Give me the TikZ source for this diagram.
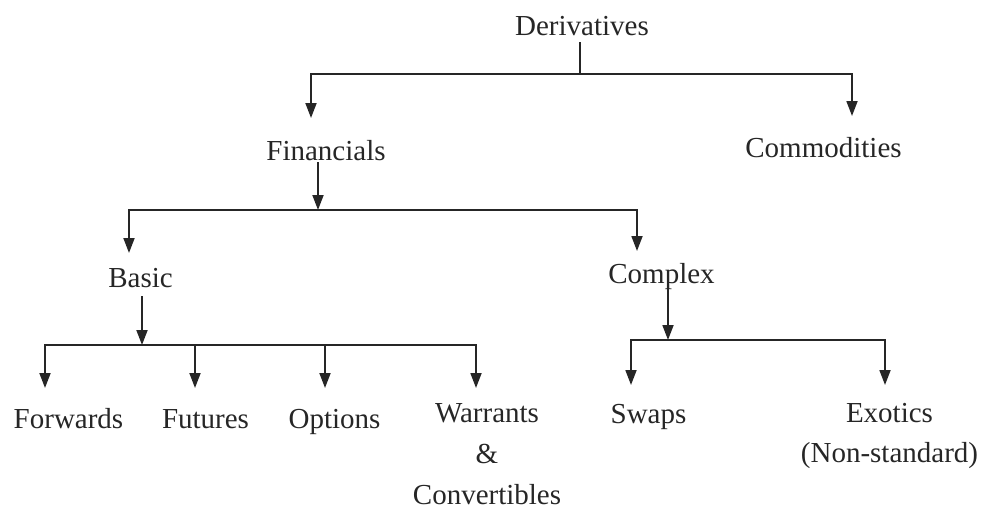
\documentclass[tikz,border=0pt]{standalone}
\usepackage{fontspec}
\setmainfont{Liberation Serif}
\usetikzlibrary{arrows.meta}
\begin{document}
\begin{tikzpicture}[x=1pt,y=-1pt,
  lbl/.style={inner sep=0pt, font=\fontsize{29}{41}\selectfont, text=black!85},
  ln/.style={line width=1.8pt, draw=black!85},
  arr/.style={ln, -{Triangle[length=15pt,width=11pt]}}]
\useasboundingbox (0,0) rectangle (984,512);
% nodes
\node[lbl,anchor=base] (der) at (582,35) {Derivatives};
\node[lbl,anchor=base] (fin) at (326,160) {Financials};
\node[lbl,anchor=base] (com) at (823.5,157) {Commodities};
\node[lbl,anchor=base] (bas) at (140.5,287) {Basic};
\node[lbl,anchor=base] (cpx) at (661.5,283) {Complex};
\node[lbl,anchor=base] (fwd) at (68.5,428) {Forwards};
\node[lbl,anchor=base] (fut) at (205.5,428) {Futures};
\node[lbl,anchor=base] (opt) at (334.5,428) {Options};
\node[lbl,align=center] (war) at (487,454) {Warrants\\\&\\Convertibles};
\node[lbl,anchor=base] (swp) at (648.5,423) {Swaps};
\node[lbl,align=center,font=\fontsize{29}{40}\selectfont] (exo) at (889.5,436) {Exotics\\(Non-standard)};
% junctions and arrow tips
\coordinate (dj) at (580,74);
\coordinate (dL) at (311,118);
\coordinate (dR) at (852,116);
\coordinate (fj) at (318,210);
\coordinate (fL) at (129,253);
\coordinate (fR) at (637,251);
\coordinate (bj) at (142,345);
\coordinate (b1) at (45,388);
\coordinate (b2) at (195,388);
\coordinate (b3) at (325,388);
\coordinate (b4) at (476,388);
\coordinate (cj) at (668,340);
\coordinate (c1) at (631,385);
\coordinate (c2) at (885,385);
% Derivatives
\draw[ln,shorten <=7pt] (der.south -| dj) -- (dj);
\draw[arr] (dj) -| (dL);
\draw[arr] (dj) -| (dR);
% Financials
\draw[arr,shorten <=2pt] (fin.south -| fj) -- (fj);
\draw[arr] (fj) -| (fL);
\draw[arr] (fj) -| (fR);
% Basic
\draw[arr,shorten <=9pt] (bas.south -| bj) -- (bj);
\draw[arr] (bj) -| (b1);
\draw[arr] (bj) -| (b2);
\draw[arr] (bj) -| (b3);
\draw[arr] (bj) -| (b4);
% Complex
\draw[arr] (cpx.south -| cj) -- (cj);
\draw[arr] (cj) -| (c1);
\draw[arr] (cj) -| (c2);
\end{tikzpicture}
\end{document}
